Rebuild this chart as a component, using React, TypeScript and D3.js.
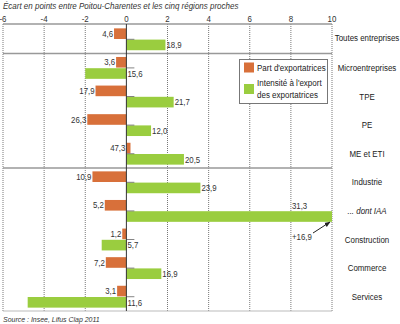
import React from "react";
import * as d3 from "d3";

const categories = [
  "Toutes entreprises",
  "Microentreprises",
  "TPE",
  "PE",
  "ME et ETI",
  "Industrie",
  "... dont IAA",
  "Construction",
  "Commerce",
  "Services",
];
// gap in points (bar lengths)
const partGap = [-0.6, -0.5, -1.5, -1.9, 0.2, -1.65, -1.05, -0.2, -1.0, -0.45];
const intensGap = [1.9, -2.0, 2.3, 1.2, 2.8, 3.6, 16.9, -1.2, 1.7, -4.8];
// level labels
const partLabels = ["4,6", "3,6", "17,9", "26,3", "47,3", "10,9", "5,2", "1,2", "7,2", "3,1"];
const intensLabels = ["18,9", "15,6", "21,7", "12,0", "20,5", "23,9", "31,3", "5,7", "16,9", "11,6"];
const ticks = [-6, -4, -2, 0, 2, 4, 6, 8, 10];
const separatorsAfter = [0, 4];

const ORANGE = "#D8703A";
const GREEN = "#9ACD3F";
const FONT = "'Liberation Sans', Arial, sans-serif";

type TP = {
  x: number;
  y: number;
  size: number;
  sx?: number;
  anchor?: "start" | "middle" | "end";
  italic?: boolean;
  fill?: string;
  children: React.ReactNode;
};
function T({ x, y, size, sx = 0.9, anchor = "start", italic = false, fill = "#333", children }: TP) {
  return (
    <text
      transform={`translate(${x},${y}) scale(${sx},1)`}
      fontSize={size}
      textAnchor={anchor}
      fontStyle={italic ? "italic" : "normal"}
      fill={fill}
    >
      {children}
    </text>
  );
}

export default function App() {
  const W = 400, H = 324;
  const x = d3.scaleLinear().domain([-6, 10]).range([3, 332]).clamp(true);
  const y = d3.scaleBand<string>().domain(categories).range([25, 311]);
  const sub = d3
    .scaleBand<string>()
    .domain(["part", "intens"])
    .range([0, y.step()])
    .paddingInner(0.054)
    .paddingOuter(0.3);
  const x0 = x(0);
  const bw = sub.bandwidth();
  const top = 24, bottom = 311;

  return (
    <svg width={W} height={H} style={{ position: "absolute", left: 0, top: 0 }} fontFamily={FONT}>
      <defs>
        <marker id="arr" viewBox="0 0 10 10" refX="9" refY="5" markerWidth="6" markerHeight="6" orient="auto">
          <path d="M0,1 L10,5 L0,9 Z" fill="#222" />
        </marker>
      </defs>
      <T x={3} y={8.5} size={8.6} sx={0.93} italic>
        Écart en points entre Poitou-Charentes et les cinq régions proches
      </T>
      {/* grid */}
      {ticks.map((t) =>
        t === 0 ? null : (
          <line key={"g" + t} x1={x(t)} x2={x(t)} y1={top} y2={bottom} stroke="#555" strokeWidth={0.8} strokeDasharray="1,1" />
        )
      )}
      {ticks.map((t) => (
        <T key={"t" + t} x={x(t)} y={21.5} size={8.8} anchor="middle">
          {t}
        </T>
      ))}
      {/* top axis line */}
      <line x1={3} x2={332} y1={top} y2={top} stroke="#999" strokeWidth={1.5} />
      {separatorsAfter.map((i) => {
        const yy = (y(categories[i]) as number) + y.step();
        return <line key={"s" + i} x1={3} x2={332} y1={yy} y2={yy} stroke="#999" strokeWidth={1.5} />;
      })}
      <line x1={3} x2={332} y1={bottom} y2={bottom} stroke="#bbb" strokeWidth={1} />
      {/* bars */}
      {categories.map((c, i) => {
        const by = y(c) as number;
        const yo = by + (sub("part") as number);
        const yg = by + (sub("intens") as number);
        const po = partGap[i], pg = intensGap[i];
        const oL = Math.min(x(po), x0), oR = Math.max(x(po), x0);
        const gL = Math.min(x(pg), x0), gR = Math.max(x(pg), x0);
        const isIAA = c === "... dont IAA";
        return (
          <g key={c}>
            <rect x={oL} y={yo} width={oR - oL} height={bw} fill={ORANGE} />
            <rect x={gL} y={yg} width={gR - gL} height={bw} fill={GREEN} />
            <line x1={x0} x2={x0 + 8} y1={yg - 0.3} y2={yg - 0.3} stroke="#666" strokeWidth={0.8} />
            <T x={oL - 1} y={yo + bw / 2 + 3.2} size={8.7} anchor="end">
              {partLabels[i]}
            </T>
            {isIAA ? (
              <T x={292} y={yg - 2.3} size={8.7}>
                {intensLabels[i]}
              </T>
            ) : (
              <T x={gR + 1} y={yg + bw / 2 + 3.2} size={8.7}>
                {intensLabels[i]}
              </T>
            )}
            <T
              x={367}
              y={by + y.step() / 2 + 3 + (i === 0 ? -1 : 0)}
              size={8.8}
              anchor="middle"
              fill="#222"
              italic={isIAA}
            >
              {c}
            </T>
          </g>
        );
      })}
      {/* zero line */}
      <line x1={x0} x2={x0} y1={top} y2={bottom} stroke="#333" strokeWidth={1} />
      {/* annotation for clipped bar */}
      <T x={292} y={240} size={8.7}>
        +16,9
      </T>
      <line x1={313} y1={233} x2={330} y2={222} stroke="#222" strokeWidth={1} markerEnd="url(#arr)" />
      {/* legend */}
      <rect x={239.5} y={59.5} width={88} height={44} fill="#fff" stroke="#777" strokeWidth={1} />
      <rect x={244} y={62.5} width={10} height={10} fill={ORANGE} />
      <T x={257} y={70.5} size={8.9} fill="#222">Part d'exportatrices</T>
      <rect x={244} y={84} width={10} height={10} fill={GREEN} />
      <T x={257} y={85.5} size={8.9} fill="#222">Intensité à l'export</T>
      <T x={257} y={97.5} size={8.9} fill="#222">des exportatrices</T>
      <T x={3} y={322} size={7.5} sx={0.93} italic>
        Source : Insee, Lifus Clap 2011
      </T>
    </svg>
  );
}
